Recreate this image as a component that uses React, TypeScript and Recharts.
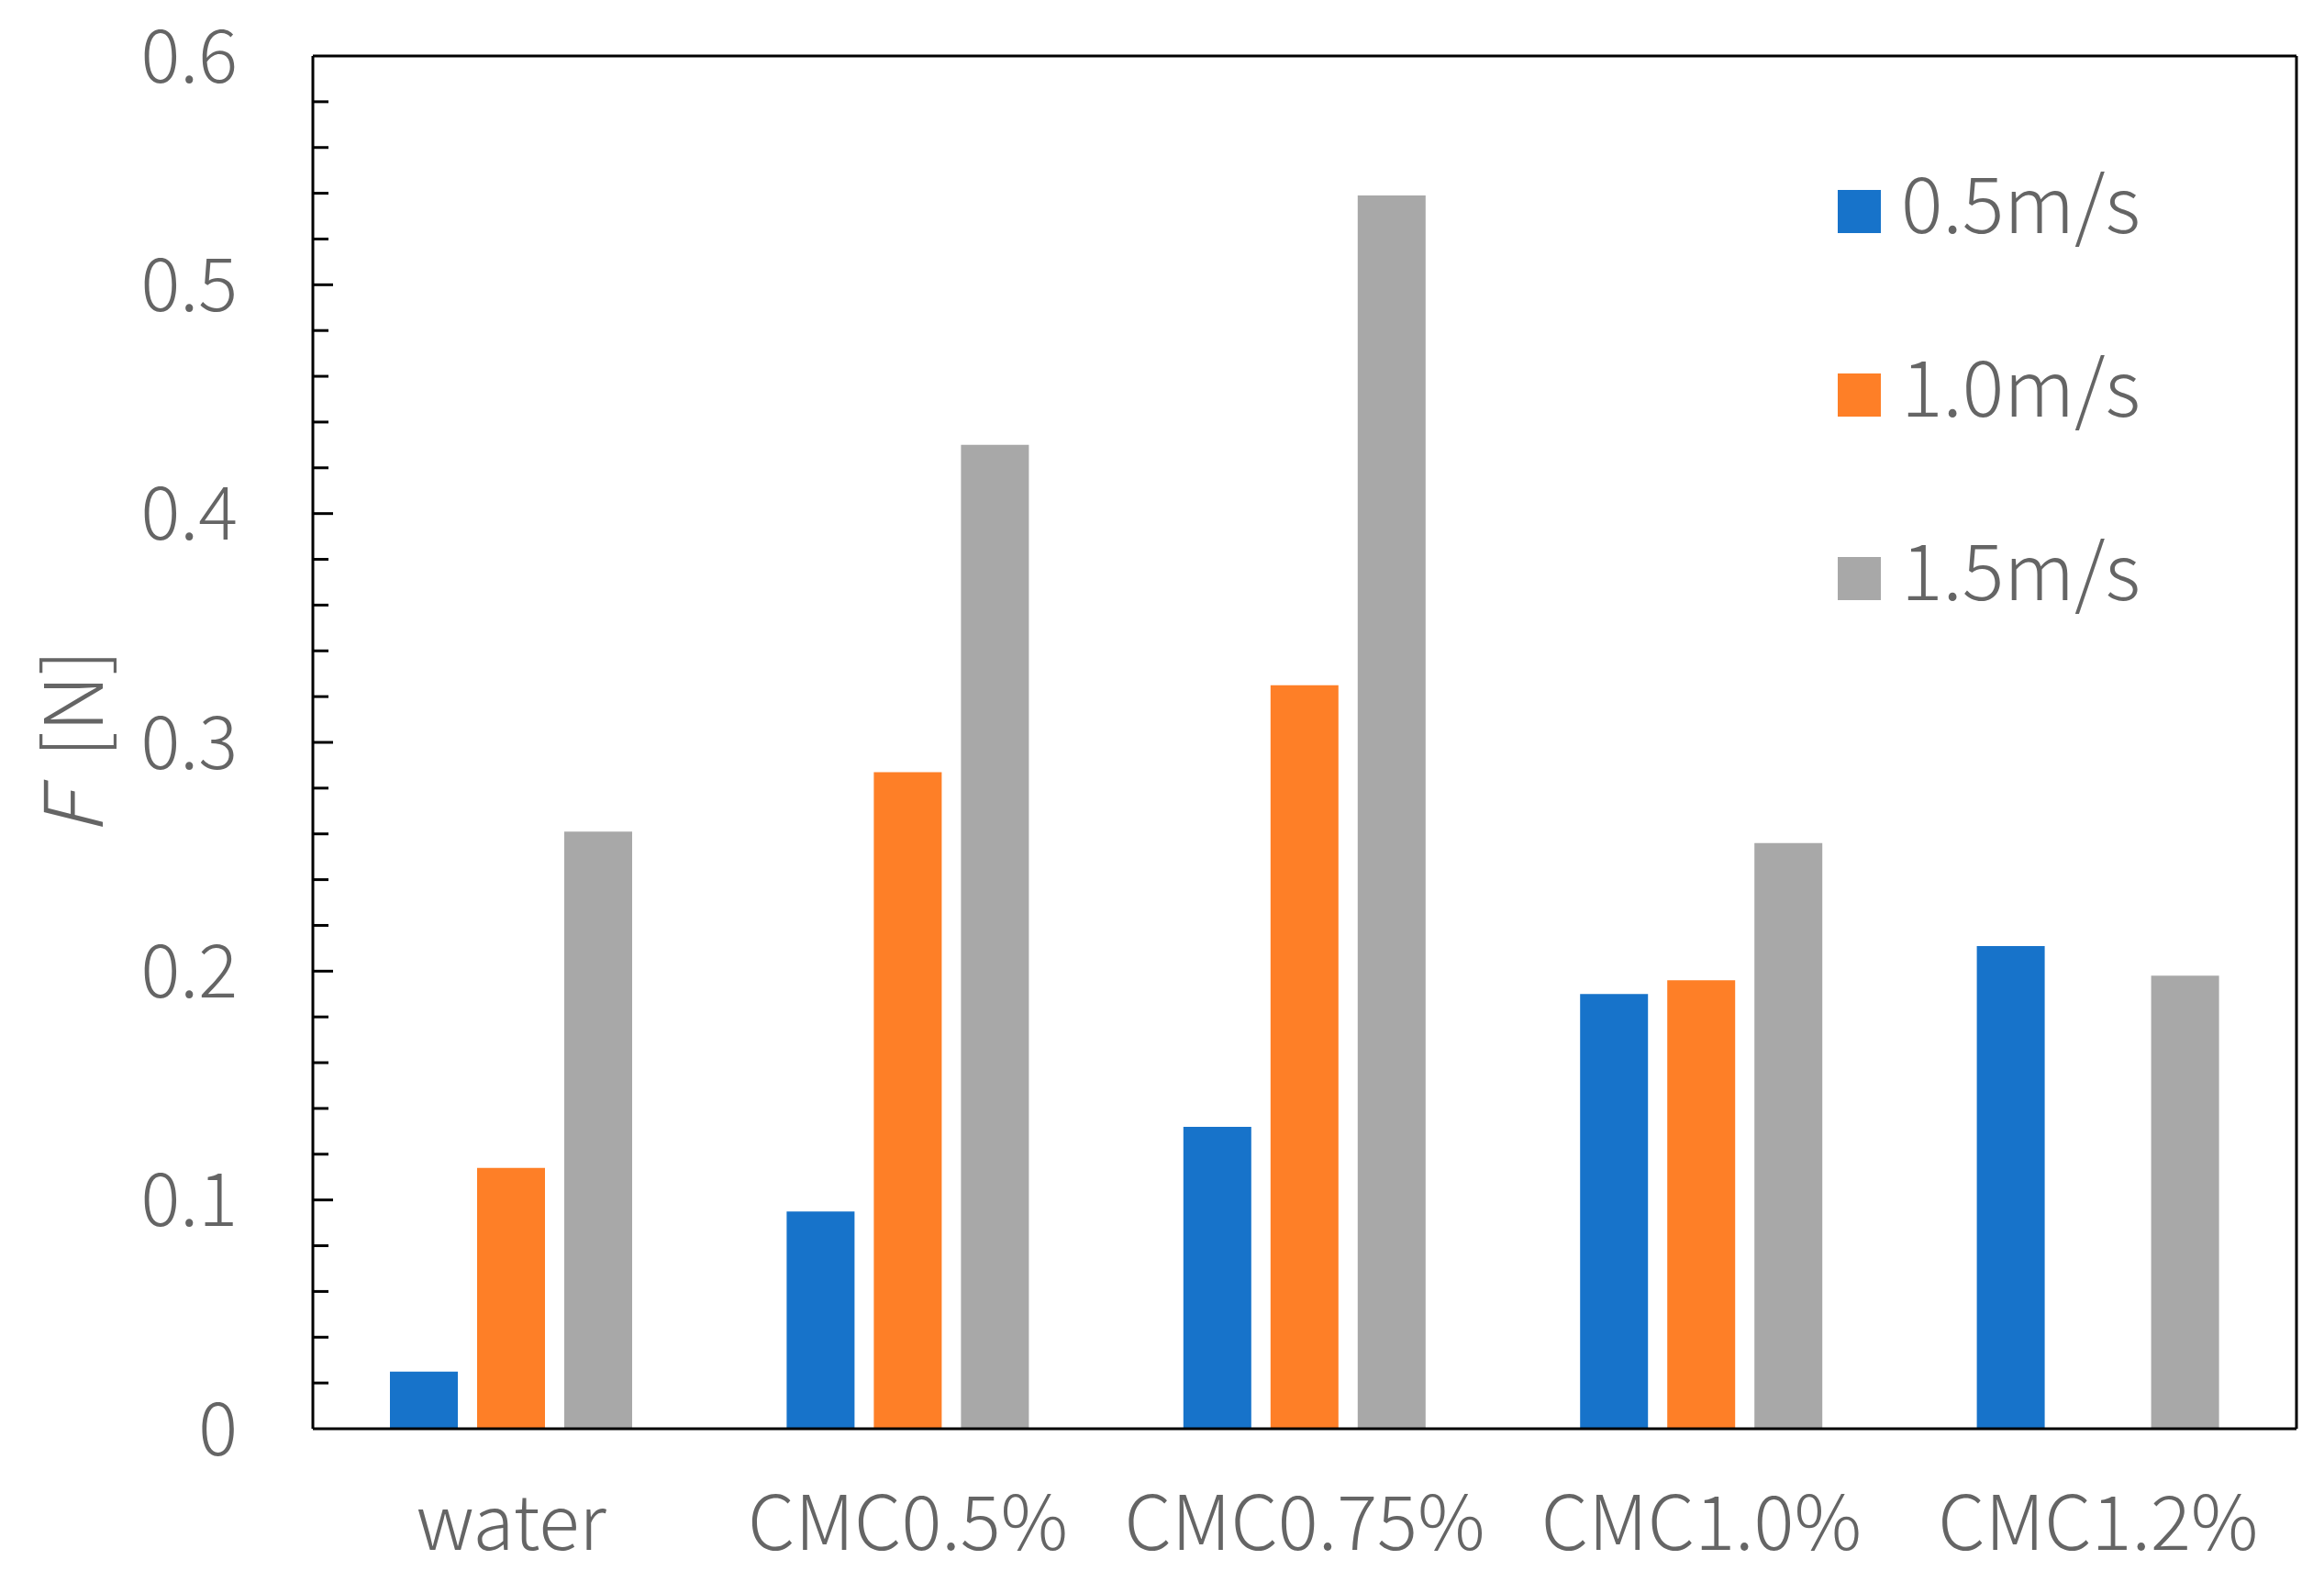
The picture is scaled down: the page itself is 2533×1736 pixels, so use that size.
import { BarChart, Bar, XAxis, YAxis, Legend } from "recharts";

const categories = ["water", "CMC0.5%", "CMC0.75%", "CMC1.0%", "CMC1.2%"];
const speeds = ["0.5m/s", "1.0m/s", "1.5m/s"];
const force05 = [0.025, 0.095, 0.132, 0.19, 0.211];
const force10 = [0.114, 0.287, 0.325, 0.196, null];
const force15 = [0.261, 0.43, 0.539, 0.256, 0.198];
const majorTicks = [0, 0.1, 0.2, 0.3, 0.4, 0.5, 0.6];
const minorTicks = [
  0.02, 0.04, 0.06, 0.08, 0.12, 0.14, 0.16, 0.18, 0.22, 0.24, 0.26, 0.28,
  0.32, 0.34, 0.36, 0.38, 0.42, 0.44, 0.46, 0.48, 0.52, 0.54, 0.56, 0.58,
];

const COLORS = ["#1773CA", "#FE7F27", "#A8A8A8"];
const TEXT = "#656565";
const FONT = '"Noto Sans CJK JP", "Noto Sans", sans-serif';
const TICK_MARGIN = 82;
const BORDER = { stroke: "#000", strokeWidth: 3 };

const data = categories.map((name, i) => ({
  name,
  s05: force05[i],
  s10: force10[i],
  s15: force15[i],
}));

const allTicks = [...majorTicks, ...minorTicks].sort((a, b) => a - b);

const renderYTick = (props: any) => {
  const { x, y, payload } = props;
  const v = payload.value;
  const isMajor = majorTicks.includes(v);
  const axisX = x + TICK_MARGIN;
  return (
    <g>
      {v > 0 && v < 0.6 && (
        <line x1={axisX} x2={axisX + (isMajor ? 22 : 17)} y1={y} y2={y} stroke="#000" strokeWidth={3} />
      )}
      {isMajor && (
        <text x={x} y={y} dy="0.36em" textAnchor="end" fill={TEXT} fontSize={80} fontFamily={FONT} fontWeight={300}>
          {v === 0 ? "0" : v.toFixed(1)}
        </text>
      )}
    </g>
  );
};

const renderYLabel = (props: any) => {
  const vb = props.viewBox || { x: 0, y: 61, width: 341, height: 1496 };
  const cx = vb.x + 73;
  const cy = vb.y + vb.height / 2;
  return (
    <text
      x={cx}
      y={cy}
      transform={`rotate(-90 ${cx} ${cy})`}
      textAnchor="middle"
      dominantBaseline="central"
      fill={TEXT}
      fontSize={88}
      fontFamily={FONT}
      fontWeight={300}
    >
      <tspan fontStyle="italic">F</tspan>
      <tspan dx={38}>[N]</tspan>
    </text>
  );
};

const renderLegend = (props: any) => {
  const { payload } = props;
  return (
    <div>
      {(payload || []).map((entry: any) => (
        <div key={entry.value} style={{ height: 200, display: "flex", alignItems: "center" }}>
          <div style={{ width: 47, height: 47, background: entry.color, marginRight: 22 }} />
          <span
            style={{
              fontSize: 85,
              color: TEXT,
              fontFamily: FONT,
              fontWeight: 300,
              lineHeight: 1,
              position: "relative",
              top: -14,
            }}
          >
            {entry.value}
          </span>
        </div>
      ))}
    </div>
  );
};

export default function App() {
  return (
    <div style={{ position: "absolute", left: 0, top: 0, background: "#fff" }}>
      <BarChart
        width={2533}
        height={1736}
        data={data}
        margin={{ top: 60, right: 29, bottom: 0, left: 0 }}
        barSize={74}
        barGap={21}
      >
        <XAxis
          dataKey="name"
          height={179}
          interval={0}
          tickLine={false}
          tickSize={0}
          tickMargin={74}
          axisLine={BORDER}
          tick={{ fontSize: 82, fill: TEXT, fontFamily: FONT, fontWeight: 300 }}
        />
        <XAxis xAxisId="top" dataKey="name" orientation="top" height={1} tick={false} tickLine={false} axisLine={BORDER} />
        <YAxis
          width={341}
          domain={[0, 0.6]}
          ticks={allTicks}
          interval={0}
          tickLine={false}
          tickSize={0}
          tickMargin={TICK_MARGIN}
          axisLine={BORDER}
          tick={renderYTick}
          label={renderYLabel}
        />
        <YAxis yAxisId="right" orientation="right" width={1} domain={[0, 0.6]} tick={false} tickLine={false} axisLine={BORDER} />
        <Legend
          layout="vertical"
          align="center"
          verticalAlign="middle"
          wrapperStyle={{ top: 130, left: 2003, width: 480 }}
          content={renderLegend}
        />
        <Bar dataKey="s05" name={speeds[0]} fill={COLORS[0]} isAnimationActive={false} />
        <Bar dataKey="s10" name={speeds[1]} fill={COLORS[1]} isAnimationActive={false} />
        <Bar dataKey="s15" name={speeds[2]} fill={COLORS[2]} isAnimationActive={false} />
      </BarChart>
    </div>
  );
}
